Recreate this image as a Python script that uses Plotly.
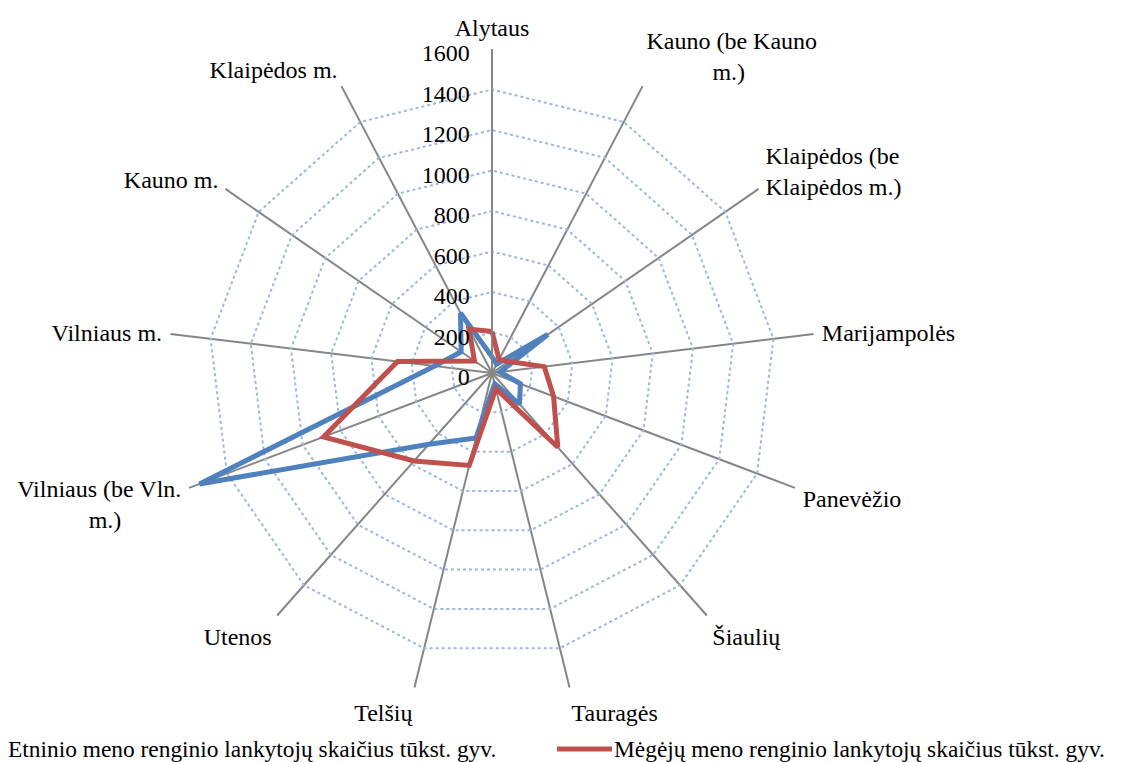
import plotly.graph_objects as go

NB = "\u00a0"
categories = [
    "Alytaus",
    "Kauno (be Kauno<br>" + NB * 11 + "m.)",
    "Klaipėdos (be<br>Klaipėdos m.)",
    "Marijampolės",
    "Panevėžio",
    "Šiaulių",
    "Tauragės",
    "Telšių",
    "Utenos",
    "Vilniaus (be Vln.<br>m.)" + NB * 10,
    "Vilniaus m.",
    "Kauno m.",
    "Klaipėdos m.",
]
etninio = [80, 50, 335, 40, 150, 205, 55, 330, 470, 1545, 285, 185, 335]
megeju = [205, 75, 100, 260, 325, 490, 80, 470, 580, 890, 470, 105, 245]
radial_ticks = [0, 200, 400, 600, 800, 1000, 1200, 1400, 1600]

series_names = [
    "Etninio meno renginio lankytojų skaičius tūkst. gyv.",
    "Mėgėjų meno renginio lankytojų skaičius tūkst. gyv.",
]
series_colors = ["#4F81BD", "#C0504D"]

FONT = "Liberation Serif, Times New Roman, serif"
FS = 24
LEG_FS = 23.4
OFF = 8  # default page body margin
W, H = 1121 - OFF, 762 - OFF
cx, cy, R = 492 - OFF, 373 - OFF, 324

fig = go.Figure()
for vals, name, col in zip([etninio, megeju], series_names, series_colors):
    fig.add_trace(go.Scatterpolar(
        r=vals + vals[:1], theta=categories + categories[:1],
        mode="lines", name=name,
        line=dict(color=col, width=5),
        showlegend=False,
    ))

# legend drawn as shapes + text (screen pixel positions converted to paper coords)
leg_y = (H - (749 - OFF)) / H
leg_items = [(-52, 3, 7), (557, 612, 613)]  # line x0, line x1, text x (screen px)
for (x0, x1, tx), name, col in zip(leg_items, series_names, series_colors):
    fig.add_shape(type="line", xref="paper", yref="paper",
                  x0=(x0 - OFF) / W, x1=(x1 - OFF) / W, y0=leg_y, y1=leg_y,
                  line=dict(color=col, width=5))
    fig.add_annotation(xref="paper", yref="paper", x=(tx - OFF) / W, y=leg_y,
                       xanchor="left", yanchor="middle", showarrow=False,
                       borderpad=0,
                       text=name, font=dict(family=FONT, size=LEG_FS, color="black"))

fig.update_layout(
    width=W, height=H,
    margin=dict(l=0, r=0, t=0, b=0, autoexpand=False),
    paper_bgcolor="white",
    showlegend=False,
    font=dict(family=FONT, size=FS, color="black"),
    polar=dict(
        domain=dict(x=[(cx - R) / W, (cx + R) / W], y=[(H - cy - R) / H, (H - cy + R) / H]),
        bgcolor="white",
        gridshape="linear",
        radialaxis=dict(
            range=[0, 1600], tickvals=radial_ticks, ticktext=[str(v) for v in radial_ticks],
            angle=90, side="counterclockwise",
            showline=True, linecolor="#868686", linewidth=1.5,
            gridcolor="#9DB7E4", griddash="dot", gridwidth=1.5,
            ticks="",
            tickfont=dict(family=FONT, size=FS, color="black"),
        ),
        angularaxis=dict(
            direction="clockwise", rotation=90,
            showline=False,
            gridcolor="#868686", gridwidth=1.5,
            ticks="outside", ticklen=3, tickcolor="rgba(0,0,0,0)",
            tickfont=dict(family=FONT, size=FS, color="black"),
        ),
    ),
)

fig.write_html("out.html")
